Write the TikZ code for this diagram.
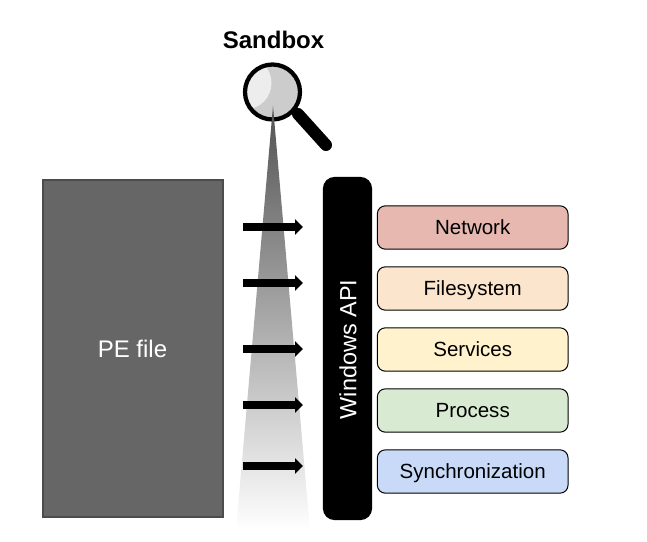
\documentclass[tikz,border=0pt]{standalone}
\usepackage{fontspec}
\usepackage{xcolor}
\usetikzlibrary{arrows.meta}
\setmainfont{Liberation Sans}

\definecolor{netcol}{HTML}{E6B8AF}
\definecolor{filecol}{HTML}{FCE5CD}
\definecolor{servcol}{HTML}{FFF2CC}
\definecolor{proccol}{HTML}{D9EAD3}
\definecolor{synccol}{HTML}{C9DAF8}

\tikzset{
    apibox/.style={draw=black,line width=0.75pt,rounded corners=6pt,minimum width=143pt,minimum height=32.5pt,inner sep=0pt,text height=11.2pt,text depth=0pt,font=\fontsize{15.4}{18}\selectfont},
    callarrow/.style={line width=6pt,-{Triangle[length=6pt,width=11.5pt]}}
}

\begin{document}
\begin{tikzpicture}[x=0.75pt,y=-0.75pt]
        \useasboundingbox (0,0) rectangle (647,542);

        % magnifying glass
        \draw[line width=9pt,line cap=round] (298,114) -- (326,145);
        \fill[black!20] (272.5,92) circle (27.5);
        \begin{scope}
            \clip (272.5,92) circle (27.5);
            \fill[black!7] (245,83) circle (26.5);
        \end{scope}
        \draw[line width=3.2pt] (272.5,92) circle (27.5);
        \node[font=\bfseries\fontsize{18}{20}\selectfont] (sandbox) at (273.5,40) {Sandbox};

        % beam
        \shade[top color=black!68,bottom color=white] (273,106) -- (310,530) -- (236,530) -- cycle;

        % PE file
        \node[draw=black!70,fill=black!60,line width=1.5pt,minimum width=135pt,minimum height=252pt,inner sep=0pt,text=white,font=\fontsize{18}{20}\selectfont] (pefile) at (132.5,348.5) {PE file};

        % Windows API
        \node[fill=black,rounded corners=9pt,minimum width=37pt,minimum height=257.5pt,inner sep=0pt] (winapi) at (347.5,348.5) {};
        \node[text=white,rotate=90,font=\fontsize{17.6}{20}\selectfont] (winapilabel) at (348,349.5) {Windows API};

        % API groups
        \node[apibox,fill=netcol] (network) at (472.7,227.5) {Network};
        \node[apibox,fill=filecol] (filesystem) at (472.7,288.5) {Filesystem};
        \node[apibox,fill=servcol] (services) at (472.7,349.5) {Services};
        \node[apibox,fill=proccol] (process) at (472.7,410.5) {Process};
        \node[apibox,fill=synccol] (synchronization) at (472.7,471.5) {Synchronization};

        % calls
        \coordinate (calla) at (243,227);
        \coordinate (callb) at (243,283);
        \coordinate (callc) at (243,349);
        \coordinate (calld) at (243,405);
        \coordinate (calle) at (243,466);
        \coordinate (enda) at (303,227);
        \coordinate (endb) at (303,283);
        \coordinate (endc) at (303,349);
        \coordinate (endd) at (303,405);
        \coordinate (ende) at (303,466);
        \draw[callarrow] (calla) -- (enda);
        \draw[callarrow] (callb) -- (endb);
        \draw[callarrow] (callc) -- (endc);
        \draw[callarrow] (calld) -- (endd);
        \draw[callarrow] (calle) -- (ende);
    \end{tikzpicture}
\end{document}
